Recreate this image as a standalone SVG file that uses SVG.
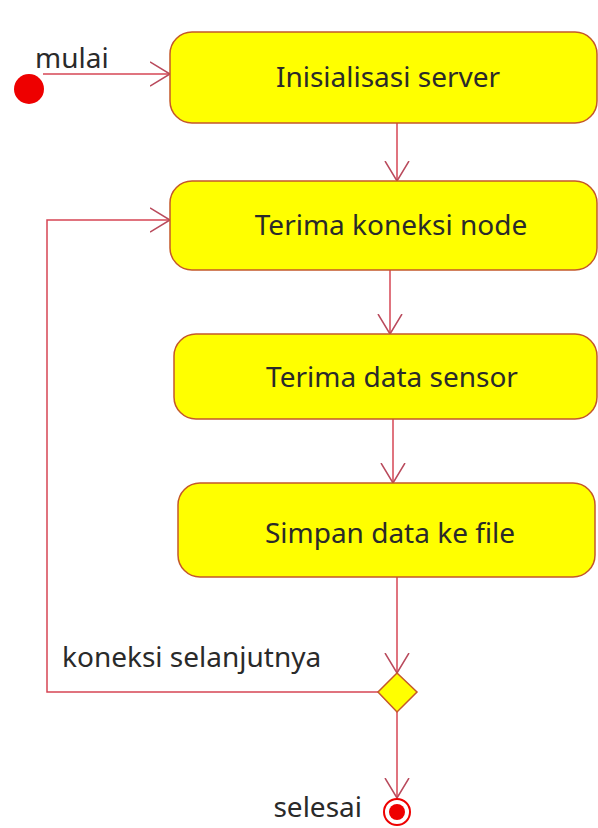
<svg xmlns="http://www.w3.org/2000/svg" width="598" height="828" viewBox="0 0 598 828">
  <style>
    .box { fill: #ffff00; stroke: #c4582a; stroke-width: 1.5; }
    .lbl { font-family: "Noto Sans", "Open Sans", sans-serif; font-size: 28px; fill: #2a2a2a; }
    .mid { text-anchor: middle; }
    .conn { fill: none; stroke: #d64654; stroke-width: 1.5; }
  </style>
  <defs>
    <marker id="arr" markerUnits="userSpaceOnUse" markerWidth="30" markerHeight="30" refX="20" refY="13" orient="auto">
      <path d="M0,1 L20,13 L0,25" fill="none" stroke="#b94a5c" stroke-width="1.5"/>
    </marker>
  </defs>
  <rect width="598" height="828" fill="#ffffff"/>

  <g id="connectors">
    <path class="conn" d="M43,74 H170" marker-end="url(#arr)"/>
    <path class="conn" d="M397,123 V181" marker-end="url(#arr)"/>
    <path class="conn" d="M390,270 V334" marker-end="url(#arr)"/>
    <path class="conn" d="M393,419 V483" marker-end="url(#arr)"/>
    <path class="conn" d="M397,577 V673" marker-end="url(#arr)"/>
    <path class="conn" d="M397,712 V798" marker-end="url(#arr)"/>
    <path class="conn" d="M378,692 H47 V220 H170" marker-end="url(#arr)"/>
  </g>

  <g id="start">
    <circle cx="29" cy="89" r="15" fill="#ee0000"/>
    <text class="lbl" x="35" y="68">mulai</text>
  </g>

  <g id="init">
    <rect class="box" x="170" y="32" width="427" height="91" rx="22"/>
    <text class="lbl mid" x="388" y="87">Inisialisasi server</text>
  </g>

  <g id="koneksi">
    <rect class="box" x="170" y="181" width="427" height="89" rx="22"/>
    <text class="lbl mid" x="391" y="235">Terima koneksi node</text>
  </g>

  <g id="data">
    <rect class="box" x="174" y="334" width="423" height="85" rx="22"/>
    <text class="lbl mid" x="392" y="387">Terima data sensor</text>
  </g>

  <g id="simpan">
    <rect class="box" x="178" y="483" width="417" height="94" rx="22"/>
    <text class="lbl mid" x="390" y="543">Simpan data ke file</text>
  </g>

  <g id="decision">
    <polygon class="box" points="397,673 417,692 397,712 378,692"/>
    <text class="lbl" x="62" y="667">koneksi selanjutnya</text>
  </g>

  <g id="end">
    <circle cx="397" cy="812" r="13" fill="#ffffff" stroke="#ee0000" stroke-width="2"/>
    <circle cx="397" cy="812" r="8" fill="#ee0000"/>
    <text class="lbl" x="362" y="817" text-anchor="end">selesai</text>
  </g>
</svg>
